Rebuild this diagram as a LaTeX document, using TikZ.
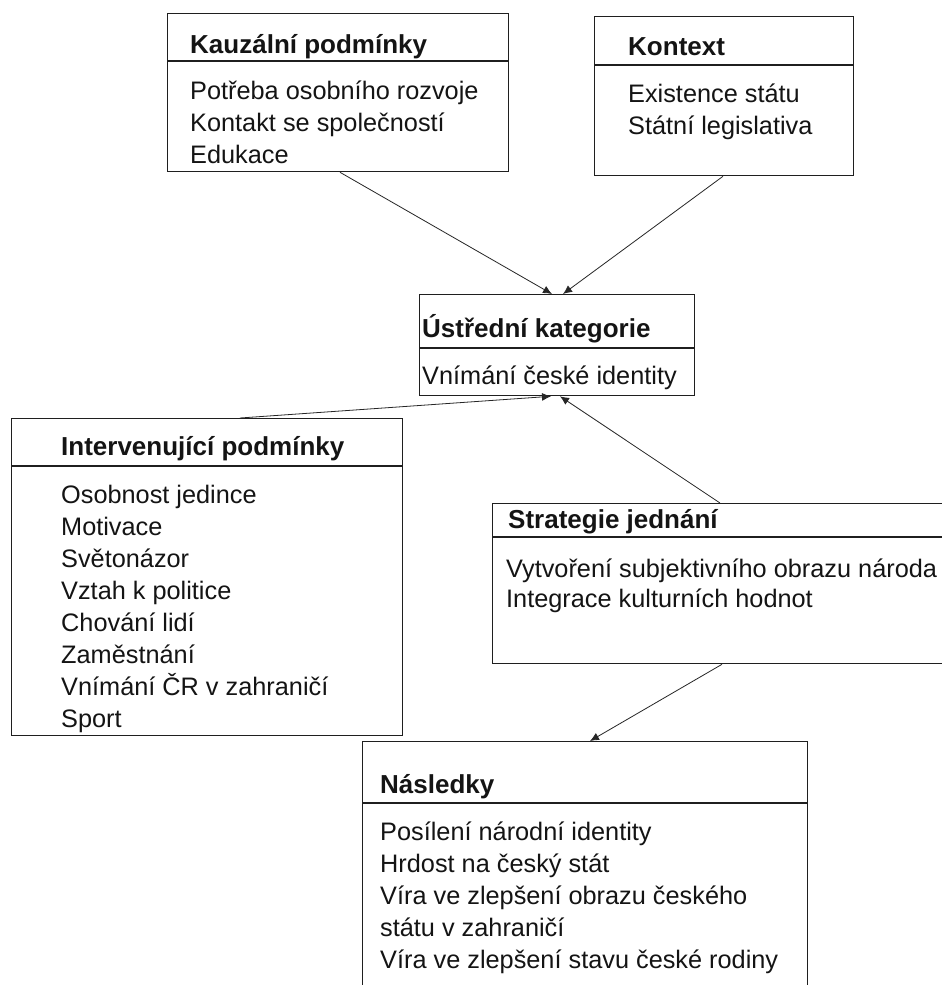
\documentclass[tikz,border=0pt]{standalone}
\usepackage{fontspec}
\setmainfont{Liberation Sans}
\usetikzlibrary{arrows.meta}
\begin{document}
\begin{tikzpicture}[x=1pt,y=-1pt,
  box/.style={draw=black!88,line width=1.3pt,inner sep=0pt,anchor=north west,rectangle},
  sepline/.style={draw=black!88,line width=1.3pt},
  ttl/.style={anchor=base west,inner sep=0pt,font=\fontsize{26}{32}\selectfont\bfseries,text=black!92},
  bdy/.style={anchor=base west,inner sep=0pt,font=\fontsize{25.3}{32}\selectfont,text=black!92},
  arr/.style={draw=black!85,line width=0.8pt,-{Latex[length=9pt,width=8pt]}}]
\useasboundingbox (0,0) rectangle (942,985);
\fill[white] (0,0) rectangle (942,985);
\clip (0,0) rectangle (942,985);
\newcommand\bodylines[2]{\begin{tabular}[t]{@{}l@{}}\fontsize{25.3}{#1}\selectfont #2\end{tabular}}
% Kauzální podmínky
\node[box,minimum width=341pt,minimum height=158pt] (kauz) at (167,13) {};
\draw[sepline] (kauz.west |- 0,61) -- (kauz.east |- 0,61);
\node[ttl] (kauzT) at (190,53) {Kauzální podmínky};
\node[bdy] (kauzB) at (190,99.5) {\begin{tabular}[t]{@{}l@{}}Potřeba osobního rozvoje\\Kontakt se společností\\Edukace\end{tabular}};
% Kontext
\node[box,minimum width=259pt,minimum height=159pt] (kont) at (594,16) {};
\draw[sepline] (kont.west |- 0,65) -- (kont.east |- 0,65);
\node[ttl] (kontT) at (628,55) {Kontext};
\node[bdy] (kontB) at (628,102) {\begin{tabular}[t]{@{}l@{}}Existence státu\\Státní legislativa\end{tabular}};
% Ústřední kategorie
\node[box,minimum width=275pt,minimum height=101pt] (ustr) at (419,294) {};
\draw[sepline] (ustr.west |- 0,348) -- (ustr.east |- 0,348);
\node[ttl] (ustrT) at (422,337) {Ústřední kategorie};
\node[bdy] (ustrB) at (422,384) {Vnímání české identity};
% Intervenující podmínky
\node[box,minimum width=391pt,minimum height=317pt] (intv) at (11,418) {};
\draw[sepline] (intv.west |- 0,466) -- (intv.east |- 0,466);
\node[ttl] (intvT) at (61,455) {Intervenující podmínky};
\node[bdy] (intvB) at (61,503) {\begin{tabular}[t]{@{}l@{}}Osobnost jedince\\Motivace\\Světonázor\\Vztah k politice\\Chování lidí\\Zaměstnání\\Vnímání ČR v zahraničí\\Sport\end{tabular}};
% Strategie jednání
\node[box,minimum width=468pt,minimum height=160pt] (strat) at (492,503) {};
\draw[sepline] (strat.west |- 0,537) -- (strat.east |- 0,537);
\node[ttl] (stratT) at (508,528) {Strategie jednání};
\node[bdy,font=\fontsize{25.3}{30.6}\selectfont] (stratB) at (506,577) {\begin{tabular}[t]{@{}l@{}}Vytvoření subjektivního obrazu národa\\Integrace kulturních hodnot\end{tabular}};
% Následky
\node[box,minimum width=445pt,minimum height=270pt] (nasl) at (362,741) {};
\draw[sepline] (nasl.west |- 0,803) -- (nasl.east |- 0,803);
\node[ttl] (naslT) at (380,793) {Následky};
\node[bdy] (naslB) at (380,840) {\begin{tabular}[t]{@{}l@{}}Posílení národní identity\\Hrdost na český stát\\Víra ve zlepšení obrazu českého\\státu v zahraničí\\Víra ve zlepšení stavu české rodiny\end{tabular}};
% connectors
\draw[arr] (340,0 |- kauz.south) -- (552,0 |- ustr.north);
\draw[arr] (723,0 |- kont.south) -- (563,0 |- ustr.north);
\draw[arr] (240,0 |- intv.north) -- (551,0 |- ustr.south);
\draw[arr] (720,0 |- strat.north) -- (560,0 |- ustr.south);
\draw[arr] (722,0 |- strat.south) -- (590,0 |- nasl.north);
\end{tikzpicture}
\end{document}
